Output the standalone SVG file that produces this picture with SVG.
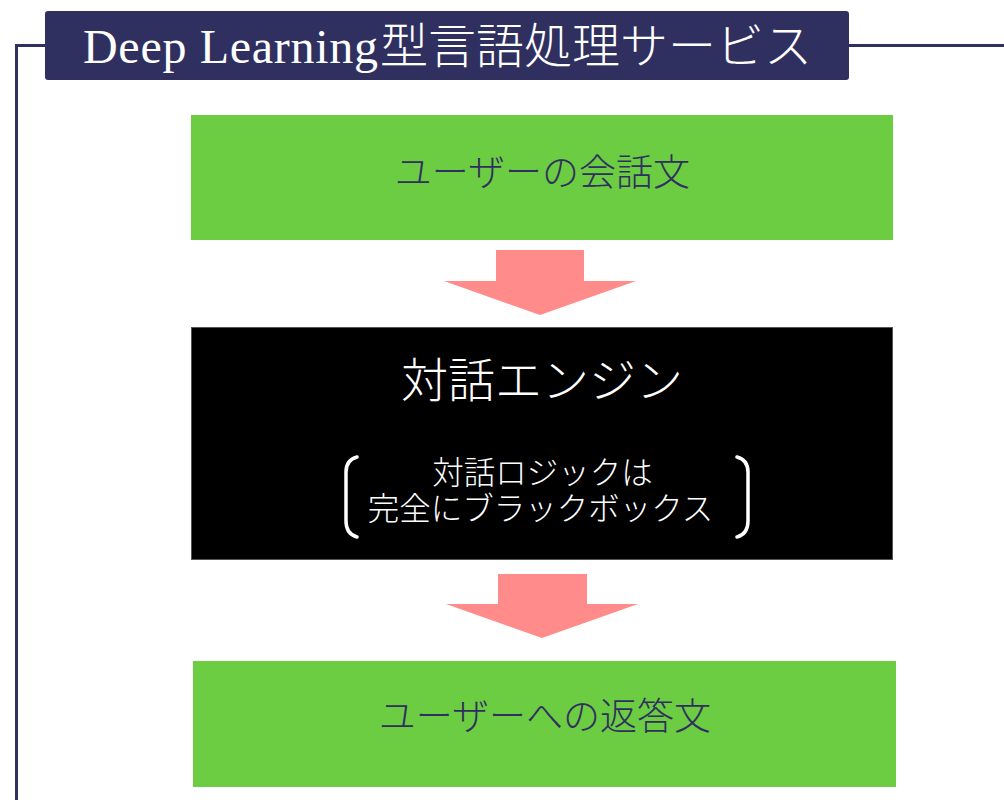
<svg xmlns="http://www.w3.org/2000/svg" width="1004" height="800" viewBox="0 0 1004 800">
<style>
.frame{fill:none;stroke:#2f3060;stroke-width:3}
.green{fill:#6ccc42}
.arrow{fill:#ff8c8a}
.jp{font-family:"Noto Sans CJK JP","Noto Sans",sans-serif;font-weight:300}
.navy{fill:#303060}
.white{fill:#ffffff}
.brace{fill:none;stroke:#ffffff;stroke-width:3.5;stroke-linecap:round}
</style>
<rect width="1004" height="800" fill="#ffffff"/>
<g id="frame">
<polyline class="frame" points="16.5,800 16.5,45.5 46,45.5"/>
<line class="frame" x1="849" y1="45.5" x2="1004" y2="45.5"/>
</g>
<g id="title">
<rect x="45" y="11" width="804" height="69" rx="3" fill="#303060"/>
<text x="83" y="63" class="white"><tspan font-family="Liberation Serif,serif" font-size="48" textLength="295" lengthAdjust="spacing">Deep Learning</tspan><tspan class="jp" x="380" font-size="48">型言語処理サービス</tspan></text>
</g>
<g id="input">
<rect class="green" x="191" y="115" width="702" height="125"/>
<text class="jp navy" x="542.5" y="186" font-size="37" text-anchor="middle">ユーザーの会話文</text>
</g>
<g id="engine">
<rect x="191.5" y="327.5" width="701" height="232" fill="#000000" stroke="#555555" stroke-width="1"/>
<text class="jp white" x="542" y="397" font-size="47" text-anchor="middle">対話エンジン</text>
<path class="brace" d="M357,457 Q346,460 346,472 L346,521 Q346,534 357,537"/>
<path class="brace" d="M737,457 Q748,460 748,472 L748,521 Q748,534 737,537"/>
<text class="jp white" x="542.5" y="484" font-size="31.5" text-anchor="middle">対話ロジックは</text>
<text class="jp white" x="540.5" y="520" font-size="31.5" text-anchor="middle">完全にブラックボックス</text>
</g>
<g id="output">
<rect class="green" x="193" y="661" width="703" height="126"/>
<text class="jp navy" x="545" y="730" font-size="37" text-anchor="middle">ユーザーへの返答文</text>
</g>
<g id="connectors">
<polygon class="arrow" points="496,250 584,250 584,281 636,281 540,315 444,281 496,281"/>
<polygon class="arrow" points="498,574 587,574 587,604 638,604 542,638 446,604 498,604"/>
</g>
</svg>
